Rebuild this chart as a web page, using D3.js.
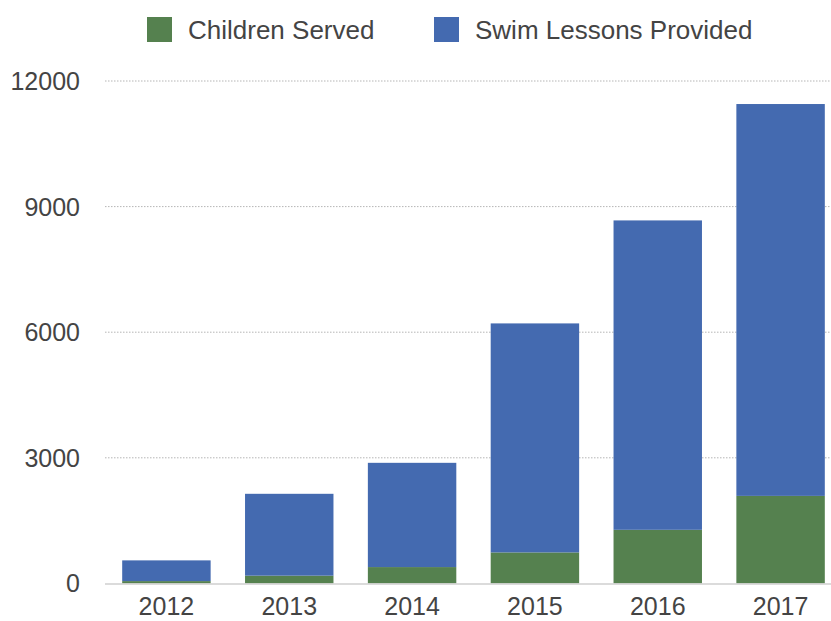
<!DOCTYPE html>
<html>
<head>
<meta charset="utf-8">
<script src="https://cdn.jsdelivr.net/npm/d3@7"></script>
<style>
  body { margin: 0; background: #fff; }
  svg { display: block; font-family: "Liberation Sans", Arial, sans-serif; }
</style>
</head>
<body>
<svg id="chart" width="831" height="621"></svg>
<script>
// Data
var years = ['2012', '2013', '2014', '2015', '2016', '2017'];
var childrenServed = [55, 185, 390, 740, 1280, 2090];
// stacked on top of the children segment
var swimLessons = [495, 1955, 2490, 5470, 7390, 9360];
var yTicks = [0, 3000, 6000, 9000, 12000];
var seriesNames = ['Children Served', 'Swim Lessons Provided'];
var seriesColors = ['#55814f', '#446ab0'];

var svg = d3.select('#chart');
var margin = {top: 81, left: 105, bottom: 37};
var height = 621;

var rows = years.map(function(y, i) {
  return {year: y, children: childrenServed[i], swim: swimLessons[i]};
});

var x = d3.scaleBand()
  .domain(years)
  .range([margin.left, 842])
  .paddingInner(0.28)
  .paddingOuter(0.14);

var y = d3.scaleLinear()
  .domain([0, 12000])
  .range([height - margin.bottom - 0.6, margin.top]);

// Grid lines
svg.append('g')
  .selectAll('line')
  .data(yTicks.filter(function(d) { return d > 0; }))
  .enter().append('line')
  .attr('x1', margin.left)
  .attr('x2', 831)
  .attr('y1', function(d) { return y(d); })
  .attr('y2', function(d) { return y(d); })
  .style('stroke', '#b5b5b5')
  .style('stroke-width', 1)
  .style('stroke-dasharray', '1.5 1.5');

// Y labels
svg.append('g')
  .selectAll('text')
  .data(yTicks)
  .enter().append('text')
  .attr('x', 80)
  .attr('y', function(d) { return y(d); })
  .attr('dy', '0.36em')
  .attr('text-anchor', 'end')
  .attr('fill', '#444')
  .style('font-size', '25px')
  .text(function(d) { return d; });

// Bars
var stack = d3.stack().keys(['children', 'swim']);
var layers = stack(rows);

svg.append('g')
  .selectAll('g')
  .data(layers)
  .enter().append('g')
  .attr('fill', function(d, i) { return seriesColors[i]; })
  .selectAll('rect')
  .data(function(d) { return d; })
  .enter().append('rect')
  .attr('x', function(d) { return x(d.data.year); })
  .attr('width', x.bandwidth())
  .attr('y', function(d) { return y(d[1]); })
  .attr('height', function(d) { return y(d[0]) - y(d[1]); });

// Baseline
svg.append('line')
  .attr('x1', margin.left)
  .attr('x2', 831)
  .attr('y1', y(0) + 0.5)
  .attr('y2', y(0) + 0.5)
  .style('stroke', '#cfcfcf')
  .style('stroke-width', 1.5);

// X labels
svg.append('g')
  .selectAll('text')
  .data(years)
  .enter().append('text')
  .attr('x', function(d) { return x(d) + x.bandwidth() / 2; })
  .attr('y', 615)
  .attr('text-anchor', 'middle')
  .attr('fill', '#444')
  .style('font-size', '25px')
  .text(function(d) { return d; });

// Legend
var legendX = [147, 434];
var legend = svg.append('g')
  .selectAll('g')
  .data(seriesNames)
  .enter().append('g')
  .attr('transform', function(d, i) { return 'translate(' + legendX[i] + ', 17)'; });

legend.append('rect')
  .attr('width', 25)
  .attr('height', 25)
  .attr('fill', function(d, i) { return seriesColors[i]; });

legend.append('text')
  .attr('x', 41)
  .attr('y', 12.5)
  .attr('dy', '0.36em')
  .attr('fill', '#444')
  .style('font-size', '26px')
  .text(function(d) { return d; });
</script>
</body>
</html>
